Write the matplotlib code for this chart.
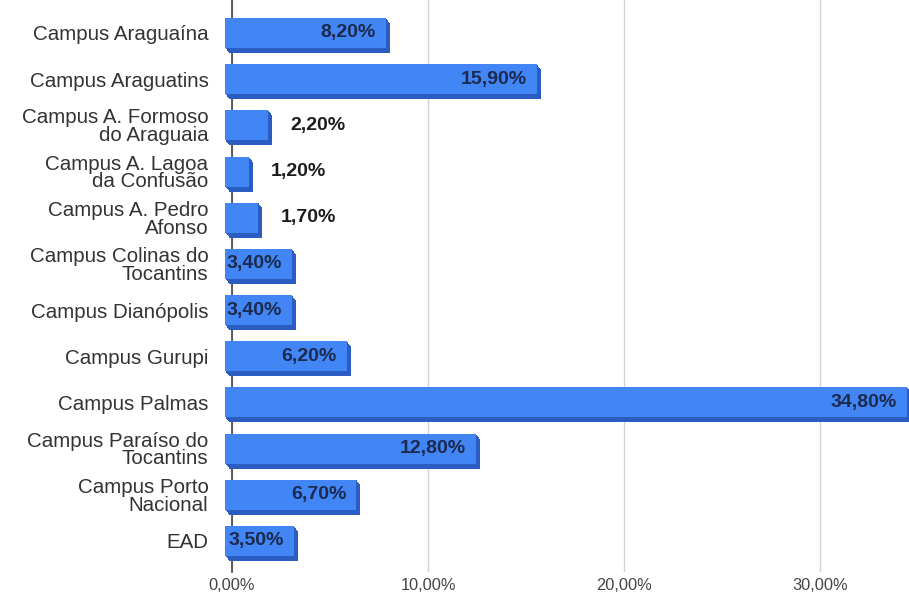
import matplotlib
matplotlib.use("Agg")
import matplotlib.pyplot as plt
import matplotlib.transforms as mtransforms
import numpy as np

categories = [
    "Campus Araguaína",
    "Campus Araguatins",
    "Campus A. Formoso\ndo Araguaia",
    "Campus A. Lagoa\nda Confusão",
    "Campus A. Pedro\nAfonso",
    "Campus Colinas do\nTocantins",
    "Campus Dianópolis",
    "Campus Gurupi",
    "Campus Palmas",
    "Campus Paraíso do\nTocantins",
    "Campus Porto\nNacional",
    "EAD",
]
values = [8.2, 15.9, 2.2, 1.2, 1.7, 3.4, 3.4, 6.2, 34.8, 12.8, 6.7, 3.5]
value_labels = ["8,20%", "15,90%", "2,20%", "1,20%", "1,70%", "3,40%", "3,40%",
                "6,20%", "34,80%", "12,80%", "6,70%", "3,50%"]
xticks = [0, 10, 20, 30]
xtick_labels = ["0,00%", "10,00%", "20,00%", "30,00%"]

plt.rcParams['font.family'] = ['Liberation Sans', 'DejaVu Sans']

W, H = 909, 603
fig = plt.figure(figsize=(W / 100, H / 100), dpi=100)
ax = fig.add_axes([232 / W, 31 / H, (W - 232) / W, 572 / H])

y = np.arange(len(categories))
front = '#4285f4'
dark = '#2b5cc2'
bh = 0.65

def px_offset(dx, dy):
    return ax.transData + mtransforms.ScaledTranslation(dx / 100, dy / 100, fig.dpi_scale_trans)

# depth layers (extrusion down-right)
for k in np.linspace(1, 0, 9):
    bars = ax.barh(y, values, height=bh, color=dark, edgecolor='none', zorder=2,
                   transform=px_offset(-7 + 4 * k, -5 * k))
    for b in bars:
        b.set_clip_on(False)
# front face
bars = ax.barh(y, values, height=bh, color=front, edgecolor='none', zorder=3,
               transform=px_offset(-7, 0))
for b in bars:
    b.set_clip_on(False)

for yi, v, lab in zip(y, values, value_labels):
    if v < 3:
        ax.text(v, yi, lab, ha='left', va='center', fontsize=14, fontweight='bold',
                color='#1c1c1c', zorder=5, transform=px_offset(15, 0))
    else:
        ax.text(v, yi, lab, ha='right', va='center', fontsize=14, fontweight='bold',
                color='#1b2a4e', zorder=5, transform=px_offset(-17, 0))

ax.set_xlim(0, (W - 232) / 19.6)
ax.set_ylim(11.672, -0.7146)

ax.set_yticks(y)
ax.set_yticklabels(categories, fontsize=14.8, color='#333333', linespacing=0.92)
ax.tick_params(axis='y', length=0, pad=17)

ax.set_xticks(xticks)
ax.set_xticklabels(xtick_labels, fontsize=11.8, color='#444444')
ax.tick_params(axis='x', length=0, pad=4)

ax.grid(axis='x', color='#d4d4d4', linewidth=1, zorder=0)
ax.set_axisbelow(True)
for s in ['top', 'right', 'bottom']:
    ax.spines[s].set_visible(False)
ax.spines['left'].set_color('#444444')
ax.spines['left'].set_linewidth(1.2)
ax.spines['left'].set_zorder(1)

fig.savefig("out.png", dpi=100)
